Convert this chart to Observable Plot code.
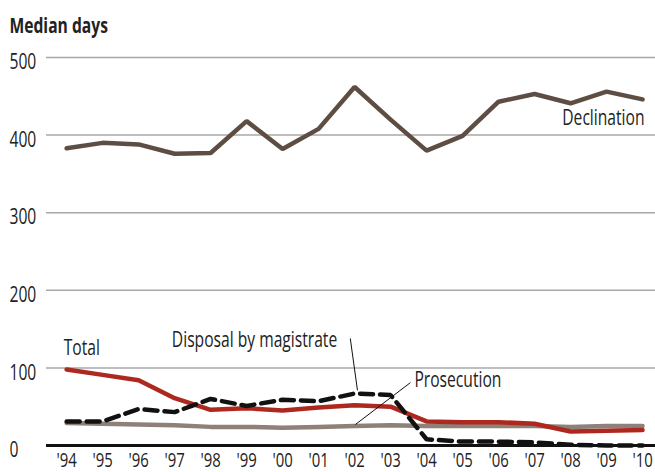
<!DOCTYPE html>
<html>
<head>
<meta charset="utf-8">
<script src="https://cdn.jsdelivr.net/npm/d3@7"></script>
<script src="https://cdn.jsdelivr.net/npm/@observablehq/plot@0.6"></script>
<style>
  html, body { margin: 0; padding: 0; background: #fff; }
</style>
</head>
<body>
<div id="chart"></div>
<script>
const years = [1994,1995,1996,1997,1998,1999,2000,2001,2002,2003,2004,2005,2006,2007,2008,2009,2010];
const yearLabels = ["'94","'95","'96","'97","'98","'99","'00","'01","'02","'03","'04","'05","'06","'07","'08","'09","'10"];
const declination = [383,390,388,376,377,418,382,408,462,420,380,399,443,453,441,456,446];
const total = [98,91,84,61,46,48,45,49,52,50,31,30,30,28,18,19,20];
const prosecution = [29,28,27,26,24,24,23,24,25,26,25,25,25,25,24,25,25];
const magistrate = [31,31,47,43,60,51,59,57,67,65,8,5,5,4,1,0,0];
const yTicks = [0,100,200,300,400,500];

const toRows = (vals) => years.map((y, i) => ({year: y, value: vals[i]}));

// annotation positions (data space)
const labels = [
  {text: "Total", year: 1994, value: 98},
  {text: "Declination", year: 2010, value: 446},
  {text: "Disposal by magistrate", year: 1999.22, value: 136},
  {text: "Prosecution", year: 2004.87, value: 84}
];
const pointers = [
  {x1: 2001.88, y1: 138, x2: 2002.08, y2: 71},
  {x1: 2003.55, y1: 81, x2: 2002.02, y2: 27}
];

const font = "'Open Sans', sans-serif";
const narrow = 0.745;

const chart = Plot.plot({
  width: 655,
  height: 472,
  marginLeft: 46,
  marginRight: 0,
  marginTop: 57,
  marginBottom: 27,
  style: {fontFamily: font, fontSize: "21px", color: "#222", background: "#fff", overflow: "visible"},
  x: {type: "linear", domain: [1993.44, 2010.36]},
  y: {domain: [0, 500]},
  marks: [
    Plot.ruleY(yTicks.filter(d => d > 0), {stroke: "#a8a8a8", strokeWidth: 1.5}),
    Plot.axisY({ticks: yTicks, tickSize: 0, tickPadding: 0, textAnchor: "start", dx: -37, dy: 5, label: null, fill: "#222"}),
    Plot.axisX({ticks: years, tickSize: 0, tickPadding: 7, fontSize: 20, tickFormat: d => yearLabels[years.indexOf(d)], label: null, fill: "#222"}),
    Plot.lineY(toRows(prosecution), {x: "year", y: "value", stroke: "#8d817a", strokeWidth: 4.5, strokeLinejoin: "miter"}),
    Plot.lineY(toRows(total), {x: "year", y: "value", stroke: "#ad291f", strokeWidth: 4.5, strokeLinejoin: "miter"}),
    Plot.lineY(toRows(magistrate), {x: "year", y: "value", stroke: "#111", strokeWidth: 4.5, strokeDasharray: "13,7", strokeLinejoin: "miter"}),
    Plot.lineY(toRows(declination), {x: "year", y: "value", stroke: "#5e4d43", strokeWidth: 4.5, strokeLinejoin: "miter"}),
    Plot.ruleY([0], {stroke: "#111", strokeWidth: 3}),
    Plot.link(pointers, {x1: "x1", y1: "y1", x2: "x2", y2: "y2", stroke: "#111", strokeWidth: 1}),
    Plot.text(labels.slice(0, 1), {x: "year", y: "value", text: "text", textAnchor: "start", dx: -3, dy: -21, fill: "#222"}),
    Plot.text(labels.slice(1, 2), {x: "year", y: "value", text: "text", textAnchor: "end", dx: 2, dy: 19, fill: "#222"}),
    Plot.text(labels.slice(2), {x: "year", y: "value", text: "text", textAnchor: "middle", fill: "#222"}),
    Plot.text(["Median days"], {frameAnchor: "top-left", text: d => d, textAnchor: "start", lineAnchor: "bottom", dx: -37, dy: -25, fontWeight: "bold", fill: "#222"})
  ]
});
// condense all text horizontally around its anchor point
chart.querySelectorAll("text").forEach(t => {
  const tr = t.getAttribute("transform") || "";
  const x = t.getAttribute("x");
  if (x !== null) {
    t.setAttribute("x", 0);
    t.setAttribute("transform", `${tr} translate(${x},0) scale(${narrow},1)`);
  } else {
    t.setAttribute("transform", `${tr} scale(${narrow},1)`);
  }
});
document.getElementById("chart").appendChild(chart);
</script>
</body>
</html>
